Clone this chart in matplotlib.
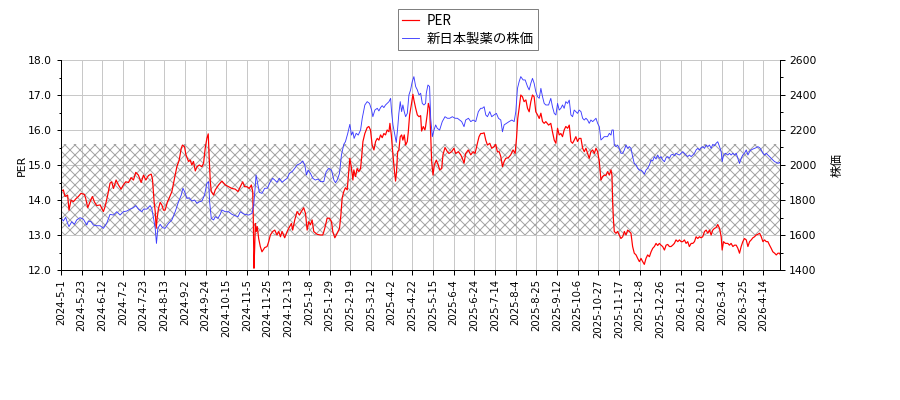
import matplotlib
matplotlib.use('Agg')
import matplotlib.pyplot as plt
from matplotlib.ticker import MultipleLocator

# dpi 120 gives the same hatch spacing (10 px) as the reference; sizes below are given in pixels
DPI = 120


def pt(px):
    return px * 72 / DPI


plt.rcParams['font.family'] = ['DejaVu Sans', 'Noto Sans CJK JP']
plt.rcParams['hatch.linewidth'] = pt(1.0)

# x axis: trading-day index, one label every 15 sessions
tick_labels = [
    '2024-5-1', '2024-5-23', '2024-6-12', '2024-7-2', '2024-7-23', '2024-8-13',
    '2024-9-2', '2024-9-24', '2024-10-15', '2024-11-5', '2024-11-25', '2024-12-13',
    '2025-1-8', '2025-1-29', '2025-2-19', '2025-3-12', '2025-4-2', '2025-4-22',
    '2025-5-15', '2025-6-4', '2025-6-24', '2025-7-14', '2025-8-4', '2025-8-25',
    '2025-9-12', '2025-10-6', '2025-10-27', '2025-11-17', '2025-12-8', '2025-12-26',
    '2026-1-21', '2026-2-10', '2026-3-4', '2026-3-25', '2026-4-14',
]
n_days = 523

# PER (left axis)
per_x = [
    0, 1.7, 2.9, 4.8, 5.8, 7.3, 9.0, 10.7, 12.6, 14.5, 17.0, 17.9, 19.4, 21.1, 22.8,
    24.2, 25.9, 28.4, 30.8, 32.0, 33.9, 35.6, 36.8, 38.1, 40.0, 41.7, 43.6, 45.3, 47.0,
    49.0, 50.9, 52.6, 54.3, 56.2, 58.2, 59.9, 61.6, 63.5, 65.5, 66.4, 67.6, 68.4, 69.1,
    69.8, 70.8, 72.0, 73.2, 74.4, 75.6, 77.3, 78.5, 80.5, 82.4, 84.1, 85.8, 87.3, 88.2,
    89.7, 90.7, 92.6, 93.8, 95.0, 96.2, 97.5, 98.7, 100.4, 102.3, 103.5, 104.7, 105.9,
    106.9, 107.6, 108.4, 109.1, 110.8, 112.0, 114.4, 116.8, 119.3, 121.7, 124.1, 126.5,
    128.5, 130.2, 131.9, 133.3, 135.0, 136.7, 138.2, 139.2, 139.6, 140.1, 140.6, 141.1,
    141.8, 142.5, 143.5, 144.7, 145.9, 147.9, 149.6, 150.8, 152.0, 153.7, 155.2, 156.8,
    158.1, 159.3, 160.5, 162.4, 164.2, 165.3, 167.3, 168.2, 169.7, 171.4, 173.1, 174.5,
    176.2, 177.5, 178.7, 179.9, 181.1, 182.3, 183.5, 185.9, 188.4, 190.1, 191.5, 193.2,
    194.9, 196.4, 197.3, 198.8, 200.5, 202.2, 203.2, 204.1, 205.3, 206.5, 207.8, 209.0,
    209.7, 210.9, 211.9, 212.6, 213.8, 215.0, 216.2, 217.5, 218.2, 219.2, 220.6, 222.3,
    223.5, 224.7, 225.9, 227.2, 228.4, 229.6, 230.8, 232.0, 233.2, 234.4, 235.6, 236.8,
    238.1, 238.8, 239.8, 241.0, 242.0, 242.9, 243.6, 244.4, 245.3, 246.3, 247.3, 248.2,
    249.2, 250.2, 251.4, 252.1, 253.1, 254.3, 255.5, 256.2, 257.5, 258.7, 259.9, 261.1,
    261.8, 263.0, 264.2, 264.7, 266.0, 266.7, 267.6, 268.4, 269.1, 270.1, 271.0, 272.5,
    273.9, 274.9, 276.4, 277.3, 278.8, 280.5, 281.7, 283.6, 285.3, 286.5, 288.5, 290.2,
    291.4, 292.6, 293.8, 295.7, 297.5, 299.2, 300.6, 302.3, 303.5, 304.7, 305.9, 307.2,
    308.4, 309.6, 311.3, 312.7, 314.4, 315.6, 316.8, 318.1, 319.3, 320.5, 321.7, 322.9,
    324.8, 326.5, 328.2, 329.7, 330.7, 331.6, 332.6, 333.8, 335.0, 336.2, 337.5, 338.7,
    339.9, 341.1, 342.3, 343.5, 344.7, 346.0, 347.2, 348.4, 349.6, 350.8, 352.0, 354.0,
    355.6, 356.8, 358.1, 359.3, 360.5, 361.7, 362.9, 364.1, 365.3, 366.5, 367.8, 369.0,
    370.2, 371.4, 372.6, 373.8, 375.0, 376.2, 377.5, 378.7, 379.9, 381.1, 382.3, 383.5,
    384.7, 386.0, 387.2, 388.4, 389.6, 390.8, 392.0, 393.2, 394.4, 395.6, 396.8, 398.1,
    399.3, 400.0, 400.5, 401.0, 401.7, 402.9, 404.1, 405.3, 406.5, 407.8, 409.0, 410.2,
    411.4, 412.6, 413.8, 415.0, 416.2, 417.5, 418.7, 419.9, 421.1, 422.3, 423.5, 424.7,
    425.9, 427.2, 428.4, 429.6, 430.8, 432.0, 433.2, 434.4, 435.6, 436.8, 438.1, 439.3,
    440.5, 441.7, 442.9, 444.1, 445.3, 446.5, 447.8, 449.0, 450.2, 451.4, 452.6, 453.8,
    455.0, 456.2, 457.5, 458.7, 459.9, 461.1, 462.3, 463.5, 464.7, 465.9, 467.2, 468.4,
    469.6, 470.8, 472.0, 473.2, 474.4, 475.6, 476.8, 478.1, 479.3, 480.0, 481.0, 482.4,
    484.1, 485.3, 486.5, 487.8, 489.0, 490.2, 491.4, 492.6, 493.8, 495.0, 496.2, 497.5,
    498.7, 499.9, 501.1, 502.3, 503.5, 504.7, 505.9, 507.2, 508.4, 509.6, 510.8, 512.0,
    513.2, 514.4, 515.6, 516.8, 518.1, 519.3, 520.5, 521.7, 522.9,
]
per_y = [
    14.24, 14.29, 14.10, 14.14, 13.71, 14.00, 13.95, 14.03, 14.10, 14.19, 14.16, 14.05,
    13.78, 13.95, 14.10, 13.95, 13.84, 13.86, 13.67, 13.81, 14.14, 14.48, 14.52, 14.33,
    14.57, 14.43, 14.31, 14.43, 14.52, 14.50, 14.64, 14.57, 14.79, 14.71, 14.50, 14.71,
    14.57, 14.70, 14.74, 14.60, 13.95, 13.67, 13.19, 13.48, 13.76, 13.93, 13.86, 13.71,
    13.71, 13.95, 14.05, 14.24, 14.62, 14.95, 15.14, 15.48, 15.57, 15.52, 15.29, 15.10,
    15.14, 15.00, 15.10, 14.83, 14.95, 15.00, 14.95, 15.05, 15.48, 15.76, 15.89, 15.19,
    14.52, 14.24, 14.14, 14.29, 14.43, 14.54, 14.43, 14.38, 14.33, 14.31, 14.24, 14.38,
    14.52, 14.38, 14.38, 14.33, 14.43, 14.24, 13.48, 12.05, 12.62, 13.33, 13.10, 13.24,
    12.90, 12.67, 12.52, 12.64, 12.67, 12.81, 13.00, 13.10, 13.14, 13.00, 13.10, 12.95,
    13.10, 12.92, 13.10, 13.19, 13.33, 13.14, 13.43, 13.67, 13.57, 13.67, 13.78, 13.62,
    13.14, 13.38, 13.29, 13.43, 13.10, 13.02, 13.00, 13.00, 13.19, 13.48, 13.48, 13.38,
    13.10, 12.92, 13.05, 13.19, 13.57, 14.05, 14.24, 14.35, 14.29, 14.86, 15.19, 14.90,
    14.57, 14.86, 14.67, 14.90, 14.81, 14.90, 15.19, 15.67, 15.90, 16.07, 16.10, 16.00,
    15.57, 15.43, 15.67, 15.76, 15.71, 15.86, 15.78, 15.90, 15.86, 16.00, 15.95, 16.19,
    15.86, 15.29, 14.86, 14.54, 14.81, 15.38, 15.43, 15.81, 15.86, 15.71, 15.86, 15.57,
    15.67, 15.93, 16.43, 16.71, 17.02, 16.86, 16.62, 16.43, 16.38, 16.41, 15.97, 16.10,
    16.00, 16.10, 16.48, 16.76, 16.62, 15.86, 15.10, 14.71, 15.00, 15.14, 15.00, 14.86,
    14.90, 15.29, 15.50, 15.38, 15.33, 15.38, 15.48, 15.33, 15.38, 15.29, 15.19, 15.05,
    15.33, 15.43, 15.29, 15.38, 15.33, 15.62, 15.81, 15.90, 15.90, 15.92, 15.71, 15.57,
    15.62, 15.48, 15.52, 15.59, 15.38, 15.38, 15.24, 14.95, 15.10, 15.19, 15.21, 15.29,
    15.43, 15.33, 15.76, 16.33, 16.62, 17.00, 16.95, 16.81, 16.86, 16.62, 16.52, 16.81,
    17.00, 16.95, 16.52, 16.43, 16.33, 16.48, 16.24, 16.19, 16.24, 16.14, 16.19, 15.95,
    15.71, 15.62, 16.05, 15.86, 15.90, 15.81, 16.00, 16.10, 16.05, 16.14, 15.67, 15.62,
    15.71, 15.81, 15.67, 15.76, 15.76, 15.48, 15.38, 15.48, 15.33, 15.19, 15.38, 15.43,
    15.33, 15.48, 15.38, 15.10, 14.57, 14.67, 14.71, 14.70, 14.81, 14.71, 14.86, 14.71,
    13.95, 13.48, 13.10, 13.05, 13.10, 13.00, 12.90, 12.95, 13.10, 13.00, 13.14, 13.10,
    13.05, 12.67, 12.48, 12.43, 12.33, 12.24, 12.33, 12.24, 12.16, 12.33, 12.43, 12.38,
    12.52, 12.62, 12.67, 12.76, 12.70, 12.76, 12.71, 12.67, 12.57, 12.71, 12.73, 12.67,
    12.67, 12.71, 12.76, 12.86, 12.81, 12.86, 12.81, 12.81, 12.86, 12.76, 12.81, 12.67,
    12.76, 12.76, 12.81, 12.95, 12.90, 12.95, 12.92, 12.95, 13.10, 13.14, 13.05, 13.14,
    13.00, 13.14, 13.19, 13.21, 13.30, 13.19, 12.95, 12.57, 12.81, 12.76, 12.76, 12.71,
    12.76, 12.67, 12.71, 12.71, 12.62, 12.48, 12.67, 12.81, 12.90, 12.86, 12.67, 12.81,
    12.86, 12.92, 12.95, 13.00, 13.02, 13.05, 12.95, 12.81, 12.86, 12.81, 12.81, 12.71,
    12.62, 12.52, 12.48, 12.43, 12.48, 12.48, 12.38,
]

# share price in yen (right axis)
price_x = [
    0, 1.7, 3.4, 4.8, 5.8, 7.8, 9.7, 11.4, 13.8, 16.2, 18.7, 19.9, 21.8, 23.5, 25.9,
    28.4, 30.8, 33.2, 35.6, 38.1, 40.5, 42.9, 45.3, 47.8, 50.2, 52.6, 54.3, 56.2, 58.7,
    59.9, 62.3, 64.7, 65.9, 67.2, 68.4, 69.3, 70.3, 72.0, 73.7, 75.6, 78.1, 80.5, 82.9,
    85.3, 87.3, 88.5, 89.7, 91.4, 93.1, 95.0, 97.0, 98.7, 100.4, 102.3, 104.2, 105.9,
    107.2, 107.9, 109.1, 110.8, 112.0, 113.9, 115.6, 116.8, 119.3, 121.7, 124.1, 126.5,
    128.5, 130.2, 131.9, 133.3, 136.3, 138.7, 139.9, 141.1, 141.6, 142.5, 144.0, 145.9,
    147.9, 149.8, 152.0, 153.7, 155.2, 156.8, 158.5, 160.5, 162.4, 164.2, 165.8, 167.8,
    169.7, 171.4, 173.8, 175.5, 177.0, 178.2, 179.4, 181.1, 182.8, 184.7, 186.7, 188.4,
    190.8, 192.5, 194.4, 196.4, 198.1, 199.3, 200.5, 202.2, 203.6, 205.3, 206.5, 208.2,
    209.7, 210.9, 211.9, 212.8, 214.3, 215.8, 217.5, 218.7, 220.6, 222.3, 224.0, 225.5,
    226.4, 227.9, 229.6, 230.8, 232.0, 233.2, 234.4, 235.6, 236.8, 238.1, 239.3, 240.0,
    241.0, 242.4, 243.4, 244.4, 245.3, 246.3, 247.3, 248.2, 249.2, 250.2, 251.4, 252.6,
    253.8, 255.0, 256.2, 257.5, 258.7, 259.9, 261.1, 262.3, 263.5, 264.7, 265.2, 266.4,
    267.6, 268.4, 269.6, 270.8, 272.0, 273.2, 274.9, 276.8, 278.8, 280.5, 282.2, 284.1,
    286.1, 287.8, 289.5, 290.9, 292.6, 293.8, 295.8, 297.5, 299.2, 301.1, 303.0, 304.7,
    305.9, 307.2, 308.4, 309.6, 311.3, 312.7, 314.4, 316.1, 317.6, 319.3, 320.5, 321.7,
    323.4, 325.3, 327.3, 329.0, 330.2, 331.4, 332.6, 333.8, 335.5, 337.0, 338.7, 339.9,
    341.1, 342.3, 343.5, 344.7, 346.0, 347.2, 348.4, 349.6, 350.8, 352.0, 354.0, 355.6,
    356.8, 358.1, 359.3, 360.5, 361.7, 362.9, 364.1, 365.3, 366.5, 367.8, 369.0, 370.2,
    371.4, 372.6, 373.8, 375.0, 376.2, 377.5, 378.7, 379.9, 381.1, 382.3, 383.5, 384.7,
    386.0, 387.2, 388.4, 389.6, 390.8, 392.0, 393.2, 394.4, 395.6, 396.8, 398.1, 399.3,
    400.0, 401.0, 401.7, 402.9, 404.1, 405.3, 406.5, 407.8, 409.0, 410.2, 411.4, 412.6,
    413.8, 415.0, 416.2, 417.5, 418.7, 419.9, 421.1, 422.3, 423.5, 424.7, 425.9, 427.2,
    428.4, 429.6, 430.8, 432.0, 433.2, 434.4, 435.6, 436.8, 438.1, 439.3, 440.5, 441.7,
    442.9, 444.1, 445.3, 446.5, 447.8, 449.0, 450.2, 451.4, 452.6, 453.8, 455.0, 456.2,
    457.5, 458.7, 459.9, 461.1, 462.3, 463.5, 464.7, 465.9, 467.2, 468.4, 469.6, 470.8,
    472.0, 473.2, 474.4, 475.6, 476.8, 478.1, 479.3, 480.0, 481.0, 482.4, 484.1, 485.3,
    486.5, 487.8, 489.0, 490.2, 491.4, 492.6, 493.8, 495.0, 496.2, 497.5, 498.7, 499.9,
    501.1, 502.3, 503.5, 504.7, 505.9, 507.2, 508.4, 509.6, 510.8, 512.0, 513.2, 514.4,
    515.6, 516.8, 518.1, 519.3, 520.5, 521.7, 522.9,
]
price_y = [
    1699, 1680, 1701, 1667, 1648, 1676, 1661, 1686, 1699, 1691, 1657, 1680, 1676, 1657,
    1653, 1653, 1638, 1667, 1718, 1714, 1733, 1714, 1733, 1737, 1748, 1756, 1768, 1748,
    1733, 1748, 1748, 1768, 1752, 1695, 1638, 1552, 1638, 1661, 1642, 1638, 1667, 1686,
    1733, 1790, 1828, 1867, 1848, 1809, 1813, 1794, 1800, 1781, 1790, 1794, 1828, 1895,
    1905, 1790, 1695, 1686, 1705, 1695, 1718, 1743, 1733, 1733, 1718, 1710, 1705, 1733,
    1724, 1718, 1714, 1724, 1771, 1886, 1943, 1905, 1844, 1838, 1867, 1867, 1905, 1924,
    1914, 1901, 1924, 1901, 1914, 1924, 1952, 1962, 1981, 2000, 2009, 2023, 2000, 1943,
    1971, 1952, 1924, 1914, 1920, 1905, 1905, 1962, 1981, 1971, 1914, 1899, 1914, 1952,
    2057, 2118, 2133, 2181, 2232, 2171, 2190, 2152, 2181, 2171, 2200, 2267, 2343, 2362,
    2352, 2314, 2276, 2314, 2324, 2309, 2328, 2339, 2328, 2343, 2352, 2362, 2381, 2305,
    2229, 2171, 2129, 2209, 2295, 2362, 2305, 2343, 2305, 2276, 2295, 2400, 2429, 2476,
    2505, 2448, 2429, 2400, 2410, 2352, 2343, 2352, 2410, 2457, 2448, 2267, 2162, 2200,
    2229, 2209, 2200, 2248, 2276, 2267, 2267, 2276, 2267, 2267, 2257, 2248, 2219, 2257,
    2267, 2248, 2257, 2248, 2305, 2324, 2324, 2333, 2286, 2276, 2305, 2276, 2286, 2295,
    2267, 2257, 2190, 2229, 2238, 2248, 2257, 2248, 2305, 2438, 2476, 2505, 2486, 2486,
    2448, 2429, 2467, 2495, 2467, 2419, 2390, 2381, 2438, 2390, 2352, 2343, 2343, 2381,
    2333, 2295, 2286, 2352, 2314, 2324, 2343, 2324, 2362, 2352, 2371, 2286, 2276, 2314,
    2305, 2295, 2314, 2305, 2267, 2257, 2267, 2257, 2238, 2257, 2248, 2257, 2267, 2238,
    2219, 2143, 2152, 2162, 2162, 2162, 2181, 2171, 2200, 2200, 2114, 2105, 2114, 2095,
    2067, 2067, 2086, 2114, 2095, 2105, 2095, 2048, 2009, 2000, 1981, 1971, 1971, 1962,
    1947, 1971, 1981, 2000, 2029, 2023, 2048, 2034, 2057, 2038, 2048, 2029, 2019, 2042,
    2048, 2038, 2057, 2061, 2053, 2067, 2061, 2057, 2067, 2076, 2067, 2057, 2048, 2057,
    2048, 2057, 2067, 2086, 2095, 2086, 2099, 2105, 2095, 2114, 2105, 2114, 2095, 2118,
    2110, 2124, 2133, 2105, 2076, 2019, 2057, 2067, 2057, 2067, 2057, 2067, 2057, 2067,
    2038, 2009, 2038, 2057, 2067, 2086, 2057, 2076, 2086, 2091, 2095, 2099, 2105, 2099,
    2086, 2067, 2057, 2067, 2057, 2048, 2038, 2029, 2019, 2015, 2009, 2015, 2000,
]

band_low, band_high = 13.0, 15.6

fig = plt.figure(figsize=(900 / DPI, 400 / DPI), dpi=DPI)
ax = fig.add_axes([61 / 900, 130 / 400, 719 / 900, 210 / 400])
ax2 = ax.twinx()

ax.axhspan(band_low, band_high, facecolor='none', edgecolor='#a4a4a4',
           hatch='xxxx', linewidth=0, zorder=1)
l1, = ax.plot(per_x, per_y, color='#ff0000', lw=pt(1.2), label='PER', zorder=3)
l2, = ax2.plot(price_x, price_y, color='#3c3cff', lw=pt(0.9), label='新日本製薬の株価')

ax.set_xlim(0, n_days - 1)
ax.set_ylim(12, 18)
ax2.set_ylim(1400, 2600)

ax.set_xticks(range(0, 15 * len(tick_labels), 15))
ax.set_xticklabels(tick_labels, rotation=90, fontsize=pt(10.2))
ax.yaxis.set_major_locator(MultipleLocator(1))
ax.yaxis.set_minor_locator(MultipleLocator(0.5))
ax.yaxis.set_major_formatter(plt.FormatStrFormatter('%.1f'))
ax2.yaxis.set_major_locator(MultipleLocator(200))
ax2.yaxis.set_minor_locator(MultipleLocator(100))
for a in (ax, ax2):
    a.tick_params(which='major', length=pt(4.5), width=pt(1), pad=pt(4.5))
    a.tick_params(which='minor', length=pt(2.5), width=pt(1))
    a.tick_params(axis='y', labelsize=pt(10.8))
    a.spines['top'].set_visible(False)
    for s in a.spines.values():
        s.set_linewidth(pt(1))

ax.grid(True, color='#c8c8c8', lw=pt(1))
ax.set_axisbelow(True)

ax.set_ylabel('PER', fontsize=pt(11), labelpad=pt(1))
ax2.set_ylabel('株価', fontsize=pt(12), labelpad=pt(14),
               family=['Noto Sans CJK JP'])

leg = fig.legend(handles=[l1, l2], loc='upper center',
                 bbox_to_anchor=(0.52, 1 - 9 / 400),
                 prop={'family': ['Noto Sans CJK JP'], 'size': pt(13.4)},
                 frameon=True, fancybox=False, edgecolor='#808080', framealpha=1.0,
                 borderpad=0.35, borderaxespad=0, labelspacing=0.3,
                 handlelength=1.2, handletextpad=0.6)
leg.get_frame().set_linewidth(pt(1))

fig.savefig('out.png', dpi=DPI)
